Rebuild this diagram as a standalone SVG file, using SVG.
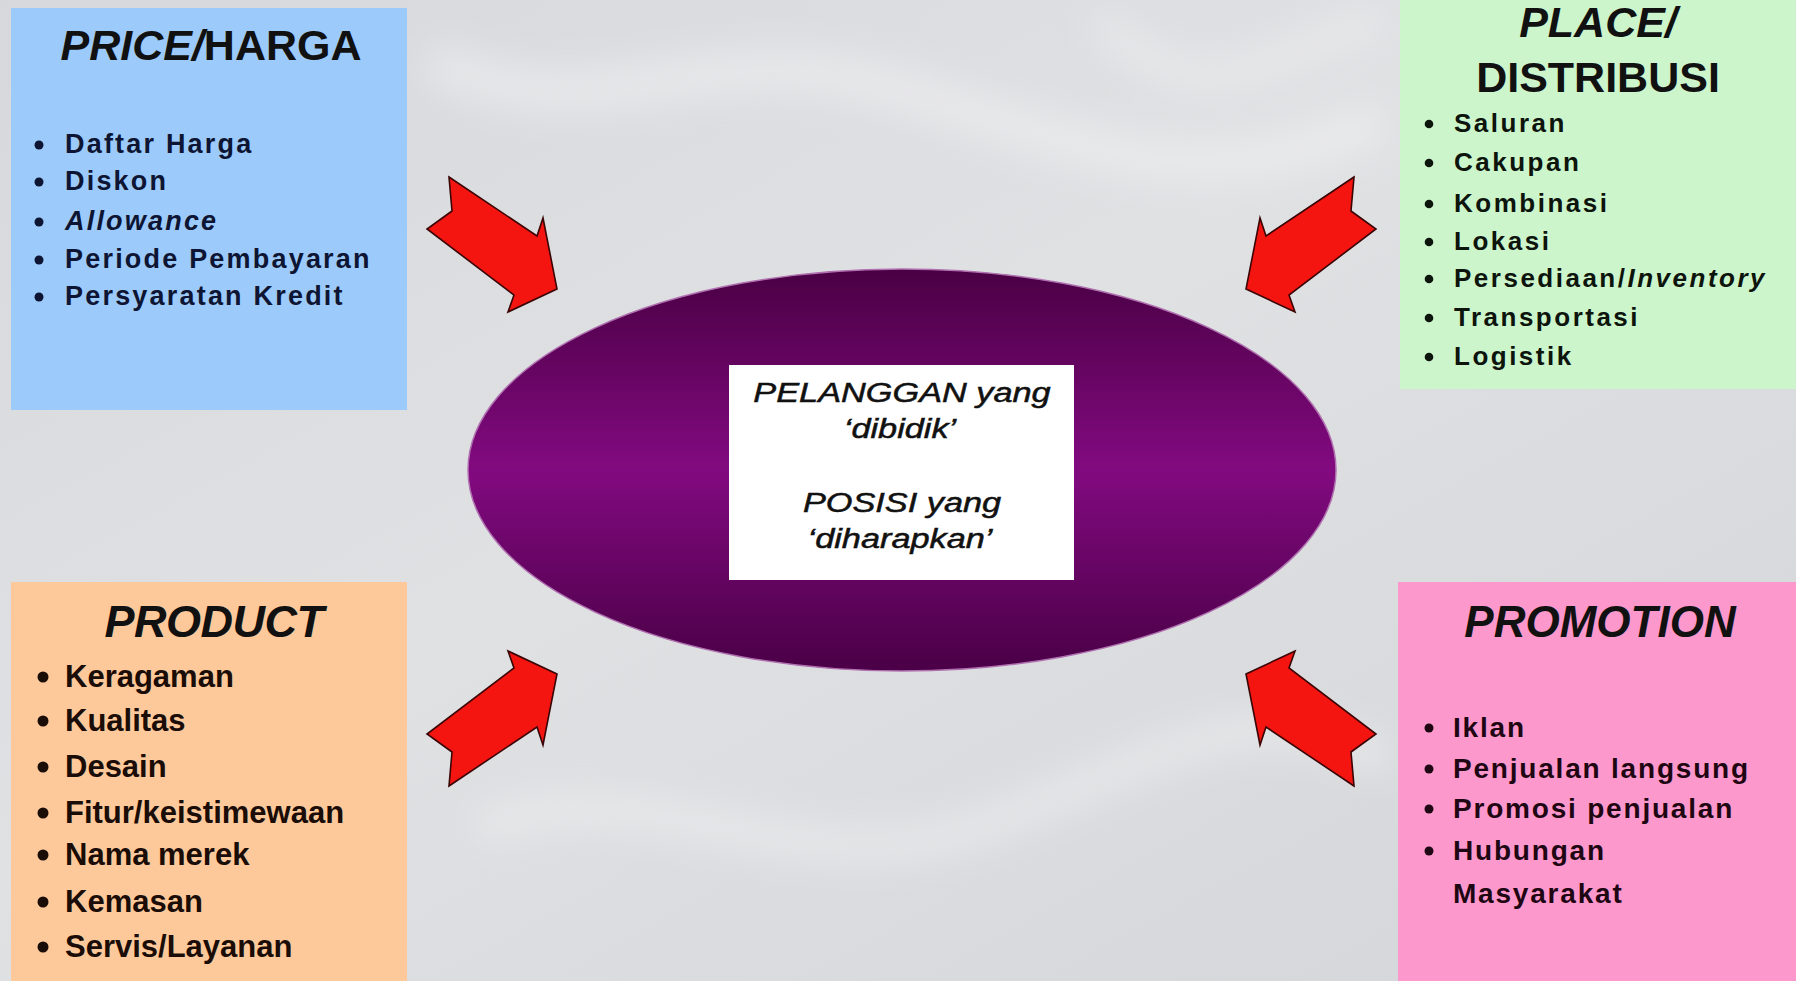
<svg xmlns="http://www.w3.org/2000/svg" width="1796" height="981" viewBox="0 0 1796 981">
<defs>
<linearGradient id="bg" x1="0" y1="0" x2="1" y2="1">
<stop offset="0" stop-color="#d6d8db"/>
<stop offset="0.45" stop-color="#e0e1e3"/>
<stop offset="1" stop-color="#d3d5d8"/>
</linearGradient>
<linearGradient id="purp" x1="0" y1="0" x2="0" y2="1">
<stop offset="0" stop-color="#4a0044"/>
<stop offset="0.5" stop-color="#820a80"/>
<stop offset="1" stop-color="#4a0046"/>
</linearGradient>
<filter id="soft" x="-20%" y="-20%" width="140%" height="140%">
<feGaussianBlur stdDeviation="18"/>
</filter>
<style>
.title{font-family:"Liberation Sans",Arial,sans-serif;font-weight:bold;font-size:43px;fill:#111;text-anchor:middle}
.it{font-style:italic}
.up{font-style:normal}
.price{font-family:"Liberation Sans",Arial,sans-serif;font-weight:bold;font-size:27px;letter-spacing:2.2px;fill:#0d1533}
.place{font-family:"Liberation Sans",Arial,sans-serif;font-weight:bold;font-size:26px;letter-spacing:2.5px;fill:#0c140c}
.prod{font-family:"Liberation Sans",Arial,sans-serif;font-weight:bold;font-size:31px;fill:#1a0c06}
.promo{font-family:"Liberation Sans",Arial,sans-serif;font-weight:bold;font-size:28px;letter-spacing:1.8px;fill:#1e0612}
.center{font-family:"Liberation Sans",Arial,sans-serif;font-style:italic;font-size:27px;fill:#111;stroke:#111;stroke-width:0.5;text-anchor:middle}
.arrow{fill:#f41410;stroke:#3a0505;stroke-width:1.6;stroke-linejoin:miter}
</style>
<polygon id="arr" class="arrow" points="449,177 537,236 543,218 557,289 508,312 514,295 427,229 452,211"/>
</defs>

<rect width="1796" height="981" fill="url(#bg)"/>
<g filter="url(#soft)" fill="none" stroke="#f2f2f4" stroke-opacity="0.55">
<path d="M430 60 C600 140 700 30 900 90 S1200 200 1380 120" stroke-width="40"/>
<path d="M480 830 C650 760 800 900 1000 820 S1250 700 1390 760" stroke-width="30"/>
<path d="M1100 20 C1200 120 1260 60 1380 20" stroke-width="26"/>
</g>

<g id="connectors">
<use href="#arr"/>
<use href="#arr" transform="matrix(-1 0 0 1 1803 0)"/>
<use href="#arr" transform="matrix(1 0 0 -1 0 963)"/>
<use href="#arr" transform="matrix(-1 0 0 -1 1803 963)"/>
</g>

<g id="center">
<ellipse cx="902" cy="470" rx="434" ry="201" fill="url(#purp)" stroke="#b070b0" stroke-width="1.5"/>
<rect x="729" y="365" width="345" height="215" fill="#ffffff"/>
<text class="center" transform="translate(902,402) scale(1.27,1)">PELANGGAN yang</text>
<text class="center" transform="translate(900,438) scale(1.27,1)">‘dibidik’</text>
<text class="center" transform="translate(902,512) scale(1.27,1)">POSISI  yang</text>
<text class="center" transform="translate(900,548) scale(1.27,1)">‘diharapkan’</text>
</g>

<g id="price">
<rect x="11" y="8" width="396" height="402" fill="#9ccafa"/>
<text class="title" x="211" y="60"><tspan class="it">PRICE/</tspan><tspan class="up">HARGA</tspan></text>
<g fill="#0d1533">
<circle cx="39" cy="145" r="4.5"/><circle cx="39" cy="182" r="4.5"/><circle cx="39" cy="222" r="4.5"/><circle cx="39" cy="260" r="4.5"/><circle cx="39" cy="297" r="4.5"/>
</g>
<text class="price" x="65" y="153">Daftar Harga</text>
<text class="price" x="65" y="190">Diskon</text>
<text class="price it" x="65" y="230">Allowance</text>
<text class="price" x="65" y="268">Periode Pembayaran</text>
<text class="price" x="65" y="305">Persyaratan Kredit</text>
</g>

<g id="place">
<rect x="1400" y="0" width="396" height="389" fill="#ccf5cc"/>
<text class="title it" x="1598" y="37">PLACE/</text>
<text class="title" x="1598" y="92">DISTRIBUSI</text>
<g fill="#0c140c">
<circle cx="1429" cy="124" r="4.3"/><circle cx="1429" cy="163" r="4.3"/><circle cx="1429" cy="204" r="4.3"/><circle cx="1429" cy="242" r="4.3"/><circle cx="1429" cy="279" r="4.3"/><circle cx="1429" cy="318" r="4.3"/><circle cx="1429" cy="357" r="4.3"/>
</g>
<text class="place" x="1454" y="132">Saluran</text>
<text class="place" x="1454" y="171">Cakupan</text>
<text class="place" x="1454" y="212">Kombinasi</text>
<text class="place" x="1454" y="250">Lokasi</text>
<text class="place" x="1454" y="287">Persediaan/<tspan class="it">Inventory</tspan></text>
<text class="place" x="1454" y="326">Transportasi</text>
<text class="place" x="1454" y="365">Logistik</text>
</g>

<g id="product">
<rect x="11" y="582" width="396" height="399" fill="#fdc99a"/>
<text class="title it" x="214" y="637" style="font-size:45px;letter-spacing:-0.5px">PRODUCT</text>
<g fill="#1a0c06">
<circle cx="43" cy="677" r="5.5"/><circle cx="43" cy="721" r="5.5"/><circle cx="43" cy="767" r="5.5"/><circle cx="43" cy="813" r="5.5"/><circle cx="43" cy="855" r="5.5"/><circle cx="43" cy="902" r="5.5"/><circle cx="43" cy="947" r="5.5"/>
</g>
<text class="prod" x="65" y="687">Keragaman</text>
<text class="prod" x="65" y="731">Kualitas</text>
<text class="prod" x="65" y="777">Desain</text>
<text class="prod" x="65" y="823">Fitur/keistimewaan</text>
<text class="prod" x="65" y="865">Nama merek</text>
<text class="prod" x="65" y="912">Kemasan</text>
<text class="prod" x="65" y="957">Servis/Layanan</text>
</g>

<g id="promotion">
<rect x="1398" y="582" width="398" height="399" fill="#fd98cc"/>
<text class="title it" x="1600" y="637" style="font-size:44px">PROMOTION</text>
<g fill="#1e0612">
<circle cx="1429" cy="728" r="4.5"/><circle cx="1429" cy="769" r="4.5"/><circle cx="1429" cy="809" r="4.5"/><circle cx="1429" cy="851" r="4.5"/>
</g>
<text class="promo" x="1453" y="737">Iklan</text>
<text class="promo" x="1453" y="778">Penjualan langsung</text>
<text class="promo" x="1453" y="818">Promosi penjualan</text>
<text class="promo" x="1453" y="860">Hubungan</text>
<text class="promo" x="1453" y="903">Masyarakat</text>
</g>
</svg>
